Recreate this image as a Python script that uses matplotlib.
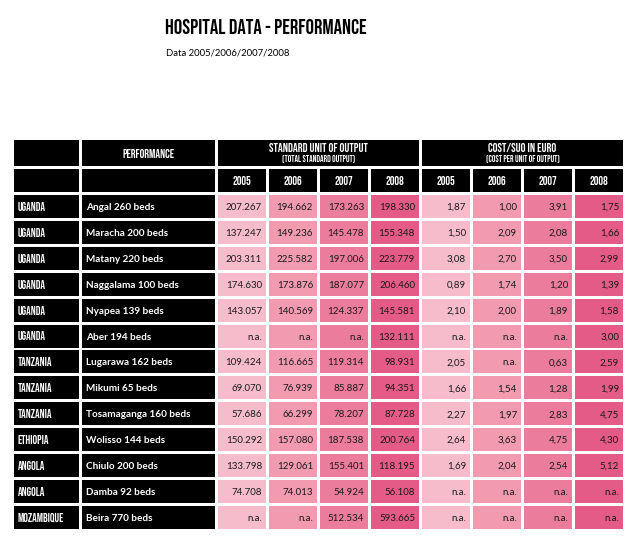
import matplotlib
matplotlib.use("Agg")
import matplotlib.pyplot as plt
from matplotlib.patches import Rectangle

# ---------------- data ----------------
title = "HOSPITAL DATA - PERFORMANCE"
subtitle = "Data 2005/2006/2007/2008"
years = ["2005", "2006", "2007", "2008"]
group_suo = "STANDARD UNIT OF OUTPUT"
group_suo_sub = "(TOTAL STANDARD OUTPUT)"
group_cost = "COST/SUO IN EURO"
group_cost_sub = "(COST PER UNIT OF OUTPUT)"
name_header = "PERFORMANCE"

countries = ["UGANDA", "UGANDA", "UGANDA", "UGANDA", "UGANDA", "UGANDA",
             "TANZANIA", "TANZANIA", "TANZANIA", "ETHIOPIA", "ANGOLA",
             "ANGOLA", "MOZAMBIQUE"]
hospitals = ["Angal 260 beds", "Maracha 200 beds", "Matany 220 beds",
             "Naggalama 100 beds", "Nyapea 139 beds", "Aber 194 beds",
             "Lugarawa 162 beds", "Mikumi 65 beds", "Tosamaganga 160 beds",
             "Wolisso 144 beds", "Chiulo 200 beds", "Damba 92 beds",
             "Beira 770 beds"]

suo_2005 = [207267, 137247, 203311, 174630, 143057, None, 109424, 69070, 57686, 150292, 133798, 74708, None]
suo_2006 = [194662, 149236, 225582, 173876, 140569, None, 116665, 76939, 66299, 157080, 129061, 74013, None]
suo_2007 = [173263, 145478, 197006, 187077, 124337, None, 119314, 85887, 78207, 187538, 155401, 54924, 512534]
suo_2008 = [198330, 155348, 223779, 206460, 145581, 132111, 98931, 94351, 87728, 200764, 118195, 56108, 593665]

cost_2005 = [1.87, 1.50, 3.08, 0.89, 2.10, None, 2.05, 1.66, 2.27, 2.64, 1.69, None, None]
cost_2006 = [1.00, 2.09, 2.70, 1.74, 2.00, None, None, 1.54, 1.97, 3.63, 2.04, None, None]
cost_2007 = [3.91, 2.08, 3.50, 1.20, 1.89, None, 0.63, 1.28, 2.83, 4.75, 2.54, None, None]
cost_2008 = [1.75, 1.66, 2.99, 1.39, 1.58, 3.00, 2.59, 1.99, 4.75, 4.30, 5.12, None, None]

year_colors = ["#f7bccb", "#f19ab0", "#eb7c9c", "#e55b87"]

# ---------------- helpers ----------------
def fmt_suo(v):
    if v is None:
        return "n.a."
    return f"{v:,}".replace(",", ".")

def fmt_cost(v):
    if v is None:
        return "n.a."
    return f"{v:.2f}".replace(".", ",")

# ---------------- layout (pixels) ----------------
W, H = 636, 549
fig = plt.figure(figsize=(W / 100, H / 100), dpi=100)
ax = fig.add_axes([0, 0, 1, 1])
ax.set_xlim(0, W)
ax.set_ylim(H, 0)
ax.axis("off")

COND = dict(family=["Bebas Neue", "DejaVu Sans"])
BODY = ["Lato", "DejaVu Sans"]

col0_x, col0_w = 14, 65
col1_x, col1_w = 82, 133
data_x0, pitch_x, cell_w = 218, 51, 48
h1_y, h1_h = 140, 26
h2_y, h2_h = 169, 23
row_y0, pitch_y, cell_h = 195, 25.9, 23

def rect(x, y, w, h, c):
    ax.add_patch(Rectangle((x, y), w, h, facecolor=c, edgecolor="none"))

# title
ax.text(165, 26.5, title, fontsize=15, color="black", va="center_baseline", ha="left", **COND)
ax.text(166, 52, subtitle, fontsize=6.8, color="black", va="center_baseline", ha="left", family=BODY)

# header row 1
rect(col0_x, h1_y, col0_w, h1_h, "black")
rect(col1_x, h1_y, col1_w, h1_h, "black")
ax.text(col1_x + col1_w / 2, h1_y + h1_h / 2, name_header, color="white",
        fontsize=8.5, ha="center", va="center_baseline", **COND)
for gi, (g, gs) in enumerate([(group_suo, group_suo_sub), (group_cost, group_cost_sub)]):
    gx = data_x0 + gi * 4 * pitch_x
    gw = 3 * pitch_x + cell_w
    rect(gx, h1_y, gw, h1_h, "black")
    ax.text(gx + gw / 2, h1_y + 8, g, color="white", fontsize=8.7,
            ha="center", va="center_baseline", **COND)
    ax.text(gx + gw / 2, h1_y + 18, gs, color="white", fontsize=6.4,
            ha="center", va="center_baseline", **COND)

# header row 2
rect(col0_x, h2_y, col0_w, h2_h, "black")
rect(col1_x, h2_y, col1_w, h2_h, "black")
for j in range(8):
    x = data_x0 + j * pitch_x
    rect(x, h2_y, cell_w, h2_h, "black")
    ax.text(x + cell_w / 2, h2_y + h2_h / 2, years[j % 4], color="white",
            fontsize=8.5, ha="center", va="center_baseline", **COND)

# body
suo_cols = [suo_2005, suo_2006, suo_2007, suo_2008]
cost_cols = [cost_2005, cost_2006, cost_2007, cost_2008]
for i in range(len(countries)):
    y = row_y0 + i * pitch_y
    cy = y + cell_h / 2
    rect(col0_x, y, col0_w, cell_h, "black")
    ax.text(col0_x + 4, cy, countries[i], color="white", fontsize=8.3,
            ha="left", va="center_baseline", **COND)
    rect(col1_x, y, col1_w, cell_h, "black")
    ax.text(col1_x + 4, cy, hospitals[i], color="white", fontsize=7.2,
            ha="left", va="center_baseline", family=BODY, fontweight="bold")
    for j in range(8):
        x = data_x0 + j * pitch_x
        rect(x, y, cell_w, cell_h, year_colors[j % 4])
        if j < 4:
            s = fmt_suo(suo_cols[j][i])
        else:
            s = fmt_cost(cost_cols[j - 4][i])
        ax.text(x + cell_w - 4, cy, s, color="#1a1a1a", fontsize=7,
                ha="right", va="center_baseline", family=BODY)

fig.savefig("out.png", dpi=100, facecolor="white")
